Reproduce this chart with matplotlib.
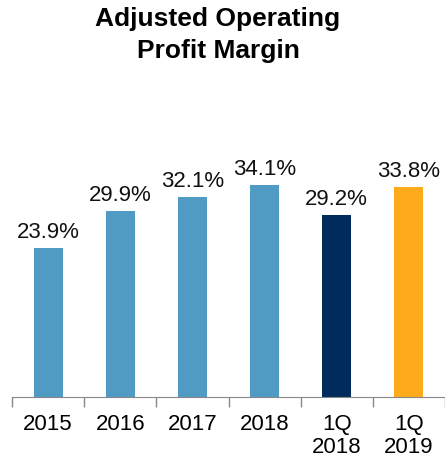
import matplotlib
matplotlib.use("Agg")
import matplotlib.pyplot as plt

plt.rcParams["font.family"] = ["Liberation Sans", "DejaVu Sans"]

categories = ["2015", "2016", "2017", "2018", "1Q\n2018", "1Q\n2019"]
margins = [23.9, 29.9, 32.1, 34.1, 29.2, 33.8]
colors = ["#509BC4", "#509BC4", "#509BC4", "#509BC4", "#012B5D", "#FDAA1B"]

fig = plt.figure(figsize=(4.45, 4.61), dpi=100)
ax = fig.add_axes([0.027, 0.139, 0.973, 0.54])

x = range(len(categories))
bars = ax.bar(x, margins, width=0.4, color=colors)
for b, v in zip(bars, margins):
    ax.text(b.get_x() + b.get_width() / 2, v + 0.8, f"{v:.1f}%",
            ha="center", va="bottom", fontsize=16, color="#111111")

ax.set_xlim(-0.5, len(categories) - 0.5)
ax.set_ylim(0, 40)
ax.set_xticks([i - 0.5 for i in range(len(categories) + 1)], minor=False)
ax.set_xticklabels([])
ax.set_xticks(list(x), minor=True)
ax.set_xticklabels(categories, minor=True, fontsize=16, linespacing=1.15)
ax.tick_params(axis="x", which="major", length=7, color="#888888", width=1)
ax.tick_params(axis="x", which="minor", length=0, pad=12)
ax.set_yticks([])
for s in ["top", "right", "left"]:
    ax.spines[s].set_visible(False)
ax.spines["bottom"].set_color("#888888")

fig.text(0.49, 0.985, "Adjusted Operating\nProfit Margin", ha="center", va="top",
         fontsize=19, fontweight="bold", linespacing=1.4)

fig.savefig("out.png", dpi=100)
